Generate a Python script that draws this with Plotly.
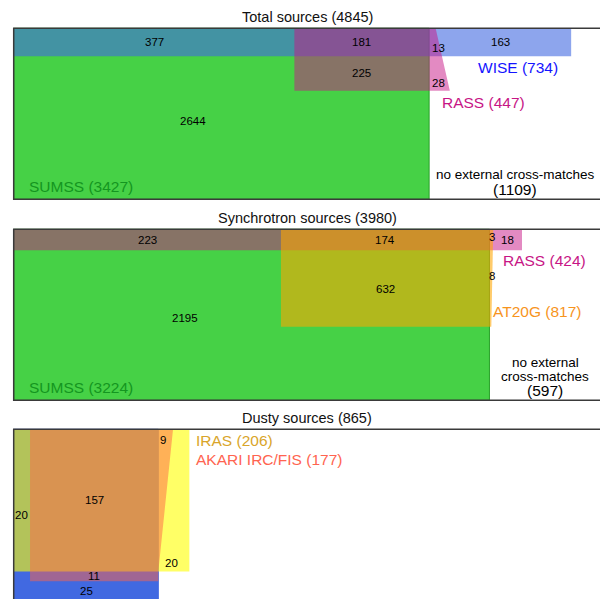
import plotly.graph_objects as go

FONT = "Liberation Sans, Arial, Helvetica, sans-serif"

# ---------------- data ----------------
titles = ["Total sources (4845)", "Synchrotron sources (3980)", "Dusty sources (865)"]
totals = [4845, 3980, 865]
none_counts = [1109, 597, 512]

base_names = ["SUMSS", "SUMSS", "WISE"]
base_totals = [3427, 3224, 213]
band_names = ["WISE", "RASS", "IRAS"]
band_totals = [734, 424, 206]
sec_names = ["RASS", "AT20G", "AKARI IRC/FIS"]
sec_totals = [447, 817, 177]

# region counts
base_band_only = [377, 223, 20]
all_three = [181, 174, 157]
base_sec_only = [225, 632, 11]
base_only = [2644, 2195, 25]
band_sec_only = [13, 3, 9]
sec_only = [28, 8, 0]
band_only = [163, 18, 20]

# ---------------- styles ----------------
base_fill = ["rgb(70,209,70)", "rgb(70,209,70)", "rgb(65,105,225)"]
base_line = ["rgb(40,160,40)", "rgb(40,160,40)", "rgb(65,105,225)"]
band_fill = ["rgba(65,105,225,0.6)", "rgba(199,21,133,0.5)", "rgba(255,255,0,0.6)"]
sec_fill = ["rgba(199,21,133,0.5)", "rgba(255,165,0,0.58)", "rgba(255,99,71,0.5)"]
base_lab_col = ["#149620", "#149620", "#1414ff"]
band_lab_col = ["#1414ff", "#C71585", "#D9A52A"]
sec_lab_col = ["#C71585", "#F7941D", "#FF6450"]

FIG_W, FIG_H = 600, 599
BOX_L, BOX_W = 13.7, 587.3
BOX_H = 171.0
BOX_TOPS = [28.3, 229.3, 429.3]
PAD = 3


def geometry(i):
    N = totals[i]
    wA = base_totals[i] / N
    hB = (base_band_only[i] + all_three[i]) / N / wA
    xs = base_band_only[i] / N / hB
    hC = (all_three[i] + base_sec_only[i]) / N / (wA - xs)
    s1 = 2 * band_sec_only[i] / N / hB
    s2 = 2 * sec_only[i] / N / (hC - hB)
    f = hB / hC
    det = (2 - f) * (1 + f) - f * (1 - f)
    t = (s1 * (1 + f) - f * s2) / det
    b = ((2 - f) * s2 - (1 - f) * s1) / det
    if b < 0:
        b, t, wm = 0.0, s1, 0.0
    else:
        wm = (1 - f) * t + f * b
    rest = band_totals[i] - base_band_only[i] - all_three[i] - band_sec_only[i]
    band_out = max(t, b) + rest / N / hB
    return dict(wA=wA, hB=hB, xs=xs, hC=hC, t=t, b=b, wm=wm, bo=band_out)


fig = go.Figure()
shapes = []
annotations = []


def refs(i):
    s = "" if i == 0 else str(i + 1)
    return "x" + s, "y" + s


def label(i, text, x, y, size=11.5, color="black", xanchor="center",
          yanchor="middle", xshift=0, yshift=0):
    xr, yr = refs(i)
    annotations.append(dict(text=text, x=x, y=y, xref=xr, yref=yr,
                            showarrow=False, borderpad=0,
                            font=dict(family=FONT, size=size, color=color),
                            xanchor=xanchor, yanchor=yanchor,
                            xshift=xshift, yshift=yshift))


for i in range(3):
    g = geometry(i)
    xr, yr = refs(i)
    wA, hB, xs, hC = g["wA"], g["hB"], g["xs"], g["hC"]
    t, b, wm, bo = g["t"], g["b"], g["wm"], g["bo"]

    # base set
    shapes.append(dict(type="rect", xref=xr, yref=yr, x0=0, x1=wA, y0=0, y1=1,
                       fillcolor=base_fill[i], line=dict(color=base_line[i], width=1)))
    # band set
    shapes.append(dict(type="rect", xref=xr, yref=yr, x0=0, x1=wA + bo, y0=0, y1=hB,
                       fillcolor=band_fill[i], line=dict(width=0)))
    # secondary set (rect inside base + trapezoid outside)
    path = (f"M {xs},0 L {wA + t},0 L {wA + wm},{hB} L {wA + b},{hC} "
            f"L {xs},{hC} Z")
    shapes.append(dict(type="path", xref=xr, yref=yr, path=path,
                       fillcolor=sec_fill[i], line=dict(width=0)))
    # frame
    shapes.append(dict(type="rect", xref=xr, yref=yr, x0=0, x1=1, y0=0, y1=1,
                       fillcolor="rgba(0,0,0,0)", line=dict(color="#3a3a3a", width=1.5)))

    # title
    label(i, titles[i], 0.5, 0, size=14.5, color="#111111", yshift=11.5)

    # region counts
    if i == 2:
        label(i, str(base_band_only[i]), xs / 2, 0.5)
    else:
        label(i, str(base_band_only[i]), xs / 2, hB / 2)
    label(i, str(all_three[i]), (xs + wA) / 2, hB / 2)
    label(i, str(base_sec_only[i]), (xs + wA) / 2, (hB + hC) / 2)

    if i < 2:
        label(i, str(base_only[i]), 0.64 * xs, 0.5 * (hB + 1) - 0.04)
    else:
        label(i, str(base_only[i]), wA / 2, (hC + 1) / 2)

    if i == 0:
        label(i, str(band_sec_only[i]), wA, hB, xanchor="left", yanchor="bottom", xshift=2, yshift=1)
        label(i, str(sec_only[i]), wA, hC, xanchor="left", yanchor="bottom", xshift=2, yshift=1)
        label(i, str(band_only[i]), wA + bo / 2, hB / 2)
        label(i, f"{band_names[i]} ({band_totals[i]})", wA + bo, hB, size=15.5,
              color=band_lab_col[i], xanchor="right", yanchor="top", xshift=-12, yshift=-2)
        label(i, f"{sec_names[i]} ({sec_totals[i]})", wA, hC, size=15.5,
              color=sec_lab_col[i], xanchor="left", yanchor="top", xshift=12, yshift=-2)
    elif i == 1:
        label(i, str(band_sec_only[i]), wA, 0, xanchor="left", yanchor="top", xshift=-1, yshift=-1)
        label(i, str(sec_only[i]), wA, hB + (hC - hB) * 0.33, xanchor="left", xshift=-1)
        label(i, str(band_only[i]), wA + bo / 2, hB / 2, xshift=2)
        label(i, f"{band_names[i]} ({band_totals[i]})", wA, hB, size=15.5,
              color=band_lab_col[i], xanchor="left", yanchor="top", xshift=13, yshift=-1)
        label(i, f"{sec_names[i]} ({sec_totals[i]})", wA, hC, size=15.5,
              color=sec_lab_col[i], xanchor="left", xshift=3, yshift=15)
    else:
        label(i, str(band_sec_only[i]), wA, 0, xanchor="left", yanchor="top", xshift=1, yshift=-4)
        label(i, str(band_only[i]), wA + bo / 2, hB, yanchor="bottom", xshift=-2, yshift=1)
        label(i, f"{band_names[i]} ({band_totals[i]})", wA + bo, 0, size=15.5,
              color=band_lab_col[i], xanchor="left", xshift=6, yshift=-11)
        label(i, f"{sec_names[i]} ({sec_totals[i]})", wA + bo, 0, size=15.5,
              color=sec_lab_col[i], xanchor="left", xshift=6, yshift=-30)

    # base set label
    if i < 2:
        label(i, f"{base_names[i]} ({base_totals[i]})", 0, 1, size=15.5,
              color=base_lab_col[i], xanchor="left", xshift=14, yshift=13)
    else:
        label(i, f"{base_names[i]} ({base_totals[i]})", wA, 1, size=15.5,
              color=base_lab_col[i], xanchor="left", xshift=3, yshift=9)

    # no external cross-matches
    if i == 0:
        cx = (wA + 1) / 2
        label(i, "no external cross-matches", cx, 1, size=13.5, yshift=24.5)
        label(i, f"({none_counts[i]})", cx, 1, size=15.5, yshift=9.5)
    elif i == 1:
        cx = (wA + 1) / 2
        label(i, "no external", cx, 1, size=13.5, yshift=38)
        label(i, "cross-matches", cx, 1, size=13.5, yshift=24)
        label(i, f"({none_counts[i]})", cx, 1, size=15.5, yshift=9.5)
    else:
        cx = (wA + bo + 1) / 2
        label(i, "no external cross-matches", cx, 1, size=13.5, xshift=22, yshift=24)
        label(i, f"({none_counts[i]})", cx, 1, size=15.5, xshift=22, yshift=9)

    # invisible anchor trace so the subplot exists
    fig.add_trace(go.Scatter(x=[0], y=[0], xaxis=xr, yaxis=yr, mode="markers",
                             marker=dict(opacity=0), hoverinfo="skip", showlegend=False))

layout = dict(width=FIG_W, height=FIG_H, margin=dict(l=0, r=0, t=0, b=0),
              paper_bgcolor="white", plot_bgcolor="white", showlegend=False,
              shapes=shapes, annotations=annotations)

for i in range(3):
    s = "" if i == 0 else str(i + 1)
    T = BOX_TOPS[i]
    top_px = T - PAD
    bot_px = min(T + BOX_H + PAD, FIG_H)
    layout["xaxis" + s] = dict(domain=[0, 1], range=[-BOX_L / BOX_W, (FIG_W - BOX_L) / BOX_W],
                               visible=False, fixedrange=True, anchor="y" + s)
    layout["yaxis" + s] = dict(domain=[1 - bot_px / FIG_H, 1 - top_px / FIG_H],
                               range=[(bot_px - T) / BOX_H, (top_px - T) / BOX_H],
                               visible=False, fixedrange=True, anchor="x" + s)

fig.update_layout(**layout)
fig.write_html("out.html", config={"displayModeBar": False})

# remove the default page margin so the figure fills the window exactly
with open("out.html", "r", encoding="utf-8") as fh:
    html = fh.read()
html = html.replace("<head>", "<head><style>html,body{margin:0;padding:0;overflow:hidden;}</style>", 1)
with open("out.html", "w", encoding="utf-8") as fh:
    fh.write(html)
